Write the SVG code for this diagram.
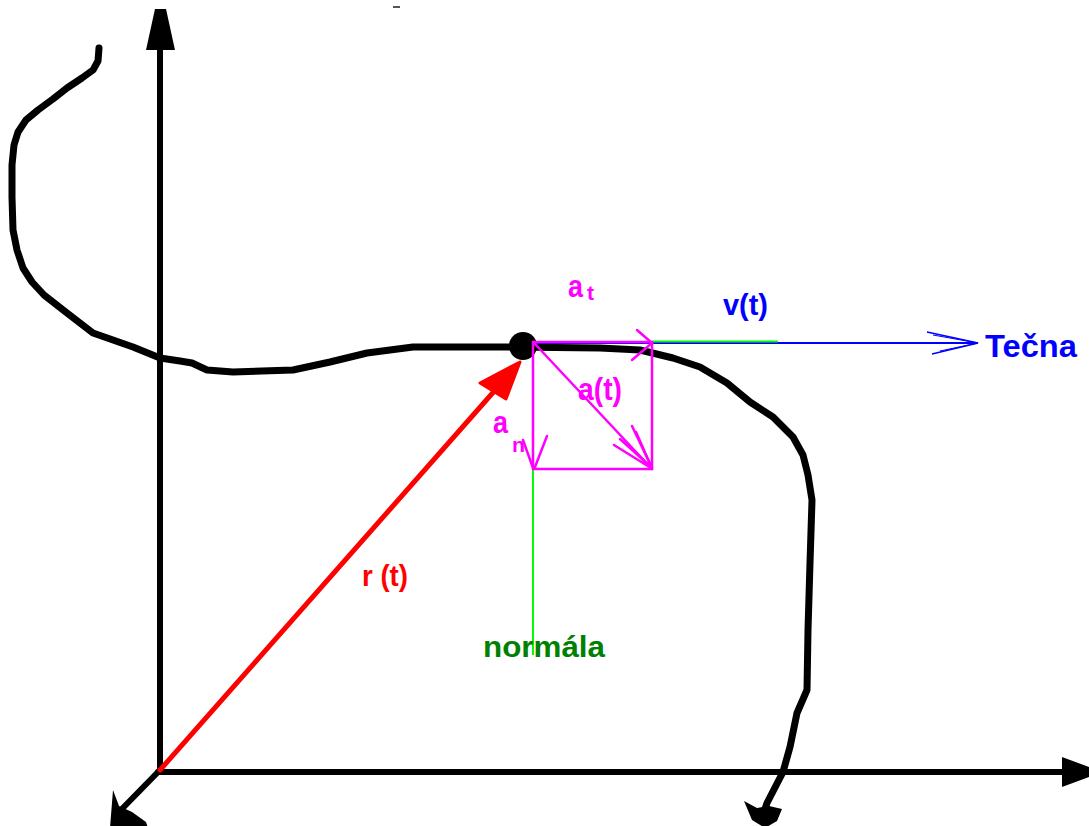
<svg xmlns="http://www.w3.org/2000/svg" width="1089" height="826" viewBox="0 0 1089 826">
<style>
.blk{stroke:#000;fill:none;stroke-linecap:round;stroke-linejoin:round}
.mg{stroke:#ff00ff;fill:none;stroke-width:2.5;stroke-linecap:round}
.lbl{font-family:"Liberation Sans",Arial,sans-serif;font-weight:bold}
</style>
<rect width="1089" height="826" fill="#fff"/>
<line x1="393" y1="7" x2="400" y2="7" stroke="#555" stroke-width="2"/>
<g id="axes">
<line class="blk" x1="160" y1="48" x2="160" y2="772" stroke-width="6"/>
<polygon points="155,9 166,9 175,50 146,50" fill="#000"/>
<line class="blk" x1="158" y1="772" x2="1064" y2="772" stroke-width="6"/>
<polygon points="1062,757 1089,767 1089,777 1062,787" fill="#000"/>
<line class="blk" x1="160" y1="770" x2="116" y2="815" stroke-width="6"/>
<polygon points="110,828 113,790 119,806 132,812 146,822 148,828" fill="#000"/>
</g>
<g id="trajectory">
<polyline class="blk" stroke-width="7" points="99,48 98,61 93,70 82,78 67,88 53,99 38,110 26,120 18,132 14,145 12,165 12,197 13,230 17,250 23,268 32,282 44,295 67,313 93,333 133,347 160,358 180,361 192,363 207,370 233,372 293,370 330,362 367,353 413,347 510,347 600,348 640,350 673,358 700,367 727,383 750,402 773,417 793,437 803,455 808,475 812,500 810,563 808,630 807,690 797,713 790,747 783,772 767,803 764,812"/>
<polygon points="744,801 757,808 769,806 782,809 777,821 765,828 752,820" fill="#000"/>
<ellipse cx="523" cy="346" rx="14" ry="14" fill="#000"/>
</g>
<g id="connectors">
<line x1="160" y1="770" x2="497" y2="388" stroke="#ff0000" stroke-width="5" stroke-linecap="round"/>
<polygon points="520,362 480,383 506,399" fill="#ff0000" stroke="#ff0000" stroke-width="3" stroke-linejoin="round"/>
<line x1="535" y1="343" x2="978" y2="343" stroke="#0000ff" stroke-width="2"/>
<line x1="652" y1="341.5" x2="778" y2="341.5" stroke="#00ff00" stroke-width="2"/>
<polyline points="927,332 978,343 932,354" fill="none" stroke="#0000ff" stroke-width="1.5"/>
<polyline points="933,335 978,343 940,351" fill="none" stroke="#0000ff" stroke-width="1"/>
<line x1="533" y1="469" x2="533" y2="655" stroke="#00ff00" stroke-width="2"/>
<rect x="533" y="342" width="119" height="127" class="mg"/>
<line x1="535" y1="344" x2="652" y2="469" class="mg"/>
<polyline points="637,330 652,343 632,360" class="mg"/>
<line x1="614" y1="445" x2="651" y2="468" class="mg"/>
<line x1="620" y1="439" x2="651" y2="467" class="mg"/>
<line x1="632" y1="426" x2="652" y2="468" class="mg"/>
<line x1="636" y1="432" x2="651" y2="466" class="mg"/>
<line x1="523" y1="440" x2="533" y2="468" class="mg"/>
<line x1="547" y1="436" x2="535" y2="467" class="mg"/>
</g>
<g id="labels" class="lbl">
<text x="568" y="297" font-size="31" fill="#ff00ff" textLength="15" lengthAdjust="spacingAndGlyphs">a</text>
<text x="587" y="300" font-size="21" fill="#ff00ff">t</text>
<text x="493" y="433" font-size="31" fill="#ff00ff" textLength="15" lengthAdjust="spacingAndGlyphs">a</text>
<text x="512" y="452" font-size="21" fill="#ff00ff" textLength="13" lengthAdjust="spacingAndGlyphs">n</text>
<text x="578" y="400" font-size="31" fill="#ff00ff" textLength="44" lengthAdjust="spacingAndGlyphs">a(t)</text>
<text x="723" y="315" font-size="29" fill="#0000ff" textLength="45" lengthAdjust="spacingAndGlyphs">v(t)</text>
<text x="985" y="357" font-size="32" fill="#0000ff" textLength="92" lengthAdjust="spacingAndGlyphs">Tečna</text>
<text x="362" y="586" font-size="30" fill="#ff0000" textLength="46" lengthAdjust="spacingAndGlyphs">r (t)</text>
<text x="483" y="657" font-size="30" fill="#008000" textLength="122" lengthAdjust="spacingAndGlyphs">normála</text>
</g>
</svg>
